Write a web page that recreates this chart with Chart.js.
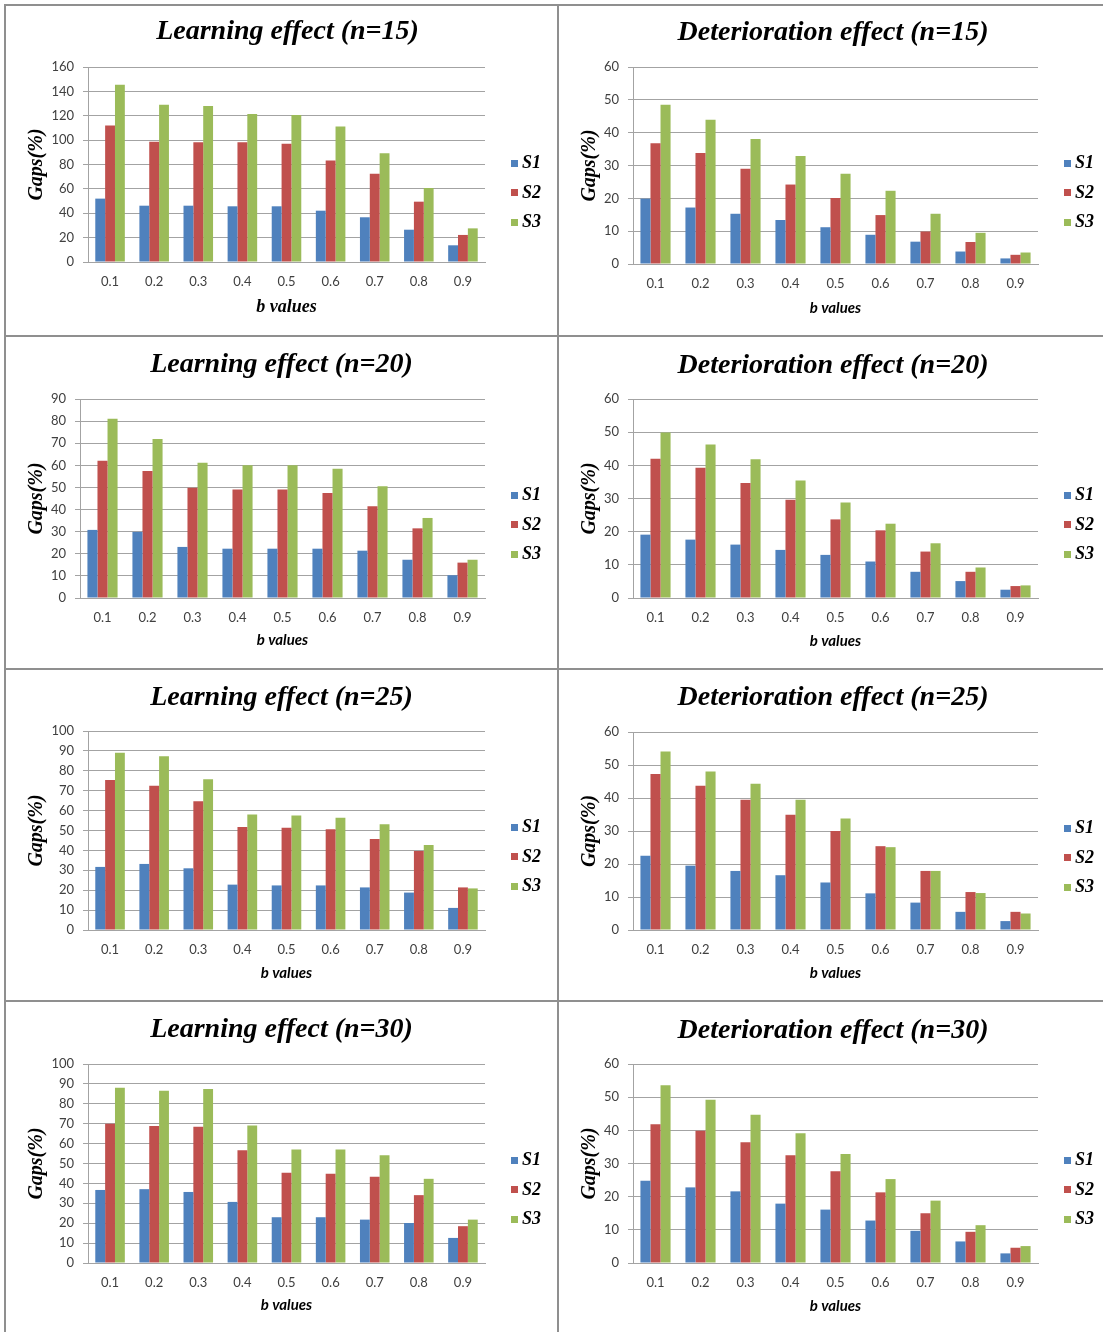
<!DOCTYPE html>
<html>
<head>
<meta charset="utf-8">
<title>Gaps by b value</title>
<script src="https://cdn.jsdelivr.net/npm/chart.js@4.4.1/dist/chart.umd.min.js"></script>
<style>
  html, body { margin: 0; padding: 0; background: #ffffff; }
  #page { position: relative; width: 1103px; height: 1332px; overflow: hidden; background: #ffffff; }
  .rule { position: absolute; background: #8f8f8f; }
  .panel { position: absolute; display: block; }
</style>
</head>
<body>
<div id="page"></div>
<script>
// b values on the x axis
const bValues = ['0.1', '0.2', '0.3', '0.4', '0.5', '0.6', '0.7', '0.8', '0.9'];
const seriesNames = ['S1', 'S2', 'S3'];

// Learning effect, gaps (%)
const learn15S1 = [52.0, 46.2, 46.2, 45.7, 45.7, 42.1, 36.7, 26.5, 13.7];
const learn15S2 = [111.9, 98.7, 98.2, 98.2, 97.1, 83.2, 72.5, 49.5, 22.2];
const learn15S3 = [145.5, 129.1, 128.0, 121.4, 120.6, 111.1, 89.2, 60.7, 27.6];

const learn20S1 = [30.8, 29.9, 23.1, 22.3, 22.3, 22.3, 21.4, 17.3, 10.3];
const learn20S2 = [62.1, 57.4, 49.9, 49.1, 49.1, 47.5, 41.5, 31.5, 16.0];
const learn20S3 = [81.1, 71.9, 61.2, 60.0, 60.0, 58.5, 50.5, 36.2, 17.3];

const learn25S1 = [31.7, 33.2, 31.0, 22.8, 22.4, 22.4, 21.4, 18.8, 11.1];
const learn25S2 = [75.4, 72.5, 64.7, 51.8, 51.4, 50.6, 45.7, 39.7, 21.4];
const learn25S3 = [89.1, 87.3, 75.7, 58.0, 57.6, 56.4, 53.1, 42.7, 20.9];

const learn30S1 = [36.7, 37.1, 35.7, 30.7, 23.0, 23.0, 21.8, 20.1, 12.6];
const learn30S2 = [70.0, 68.8, 68.5, 56.7, 45.3, 44.8, 43.3, 34.1, 18.5];
const learn30S3 = [88.1, 86.6, 87.4, 69.1, 57.0, 57.0, 54.2, 42.3, 21.8];

// Deterioration effect, gaps (%)
const det15S1 = [19.9, 17.2, 15.3, 13.4, 11.2, 8.9, 6.8, 3.8, 1.7];
const det15S2 = [36.8, 33.8, 29.0, 24.2, 20.1, 14.9, 9.9, 6.7, 2.8];
const det15S3 = [48.5, 43.9, 38.1, 32.9, 27.5, 22.3, 15.3, 9.5, 3.5];

const det20S1 = [19.1, 17.6, 16.1, 14.5, 13.0, 11.0, 7.9, 5.1, 2.5];
const det20S2 = [42.0, 39.3, 34.7, 29.6, 23.7, 20.4, 14.0, 7.9, 3.6];
const det20S3 = [49.9, 46.3, 41.8, 35.4, 28.8, 22.4, 16.5, 9.2, 3.8];

const det25S1 = [22.5, 19.5, 17.9, 16.6, 14.4, 11.1, 8.3, 5.5, 2.7];
const det25S2 = [47.3, 43.7, 39.5, 34.9, 30.0, 25.4, 17.9, 11.5, 5.5];
const det25S3 = [54.1, 48.0, 44.3, 39.5, 33.8, 25.1, 17.9, 11.2, 5.0];

const det30S1 = [24.8, 22.8, 21.6, 17.9, 16.1, 12.8, 9.7, 6.5, 2.9];
const det30S2 = [41.8, 39.9, 36.4, 32.5, 27.7, 21.3, 15.0, 9.4, 4.6];
const det30S3 = [53.6, 49.2, 44.7, 39.1, 32.9, 25.3, 18.8, 11.4, 5.1];

// y axis ranges [max, step]
const learn15Axis = [160, 20];
const learn20Axis = [90, 10];
const learn25Axis = [100, 10];
const learn30Axis = [100, 10];
const detAxis = [60, 10];

// ---- styling & layout ----
const SERIES_COLORS = ['#4F81BD', '#C0504D', '#9BBB59'];
const GRID = '#a3a3a3';
const TICK_COLOR = '#404040';
const SERIF = '"Liberation Serif", "Times New Roman", serif';
const SANS = 'Lato, "Open Sans", sans-serif';

const COLS = [{ x: 6, w: 551 }, { x: 559, w: 544 }];
const ROWS = [{ y: 6, h: 329 }, { y: 337, h: 331 }, { y: 670, h: 330 }, { y: 1002, h: 330 }];

const panels = [
  { title: 'Learning effect (n=15)', data: [learn15S1, learn15S2, learn15S3], axis: learn15Axis,
    col: 0, row: 0, plot: { l: 88, r: 485, t: 67, b: 262 }, titleY: 32, titleShift: 6, xTitleY: 307, serifXTitle: true },
  { title: 'Deterioration effect (n=15)', data: [det15S1, det15S2, det15S3], axis: detAxis,
    col: 1, row: 0, plot: { l: 633, r: 1038, t: 67, b: 264 }, titleY: 33, titleShift: 2, xTitleY: 308 },
  { title: 'Learning effect (n=20)', data: [learn20S1, learn20S2, learn20S3], axis: learn20Axis,
    col: 0, row: 1, plot: { l: 80, r: 485, t: 399, b: 598 }, titleY: 365, titleShift: 0, xTitleY: 640 },
  { title: 'Deterioration effect (n=20)', data: [det20S1, det20S2, det20S3], axis: detAxis,
    col: 1, row: 1, plot: { l: 633, r: 1038, t: 399, b: 598 }, titleY: 366, titleShift: 2, xTitleY: 641 },
  { title: 'Learning effect (n=25)', data: [learn25S1, learn25S2, learn25S3], axis: learn25Axis,
    col: 0, row: 2, plot: { l: 88, r: 485, t: 731, b: 930 }, titleY: 698, titleShift: 0, xTitleY: 973 },
  { title: 'Deterioration effect (n=25)', data: [det25S1, det25S2, det25S3], axis: detAxis,
    col: 1, row: 2, plot: { l: 633, r: 1038, t: 732, b: 930 }, titleY: 698, titleShift: 2, xTitleY: 973 },
  { title: 'Learning effect (n=30)', data: [learn30S1, learn30S2, learn30S3], axis: learn30Axis,
    col: 0, row: 3, plot: { l: 88, r: 485, t: 1064, b: 1263 }, titleY: 1030, titleShift: 0, xTitleY: 1305 },
  { title: 'Deterioration effect (n=30)', data: [det30S1, det30S2, det30S3], axis: detAxis,
    col: 1, row: 3, plot: { l: 633, r: 1038, t: 1064, b: 1263 }, titleY: 1031, titleShift: 2, xTitleY: 1306 }
];

// Series key drawn to the right of the plot area
const sideLegend = {
  id: 'sideLegend',
  afterDraw(chart, args, opts) {
    const { ctx, chartArea } = chart;
    ctx.save();
    ctx.font = 'italic bold 18px ' + SERIF;
    ctx.textBaseline = 'middle';
    ctx.textAlign = 'left';
    chart.data.datasets.forEach((ds, i) => {
      const y = chartArea.top + opts.offsetY + (i - 1) * opts.spacing;
      ctx.fillStyle = ds.backgroundColor;
      ctx.fillRect(chartArea.right + opts.boxX, Math.round(y - 4), 7, 7);
      ctx.fillStyle = '#000000';
      ctx.fillText(ds.label, chartArea.right + opts.textX, y);
    });
    ctx.restore();
  }
};

function addRule(page, x, y, w, h) {
  const d = document.createElement('div');
  d.className = 'rule';
  d.style.left = x + 'px'; d.style.top = y + 'px';
  d.style.width = w + 'px'; d.style.height = h + 'px';
  page.appendChild(d);
}

function build() {
  const page = document.getElementById('page');

  // frame around the grid of panels
  addRule(page, 4, 4, 1099, 2);
  addRule(page, 4, 4, 2, 1328);
  addRule(page, 557, 4, 2, 1328);
  addRule(page, 4, 335, 1099, 2);
  addRule(page, 4, 668, 1099, 2);
  addRule(page, 4, 1000, 1099, 2);

  panels.forEach(p => {
    const col = COLS[p.col], row = ROWS[p.row];
    const canvas = document.createElement('canvas');
    canvas.className = 'panel';
    canvas.width = col.w; canvas.height = row.h;
    canvas.style.left = col.x + 'px'; canvas.style.top = row.y + 'px';
    canvas.style.width = col.w + 'px'; canvas.style.height = row.h + 'px';
    page.appendChild(canvas);

    // left padding moves the centred title right by half its amount
    const padLeft = 2 * p.titleShift;

    const titleSize = 28, titleLH = titleSize * 1.2;
    const titleTop = p.titleY - row.y - titleLH / 2;
    const titleBottom = (p.plot.t - row.y) - titleTop - titleLH;

    const yAxisWidth = p.plot.l - col.x - padLeft;
    const xAxisHeight = (row.y + row.h) - p.plot.b;
    const rightGap = (col.x + col.w) - p.plot.r;

    const xTitleFont = p.serifXTitle
      ? { family: SERIF, size: 18, style: 'italic', weight: 'bold', lineHeight: 1.2 }
      : { family: SANS, size: 15, style: 'italic', weight: 'bold', lineHeight: 1.2 };
    const xTitleLH = xTitleFont.size * 1.2;
    const xTitlePadBottom = (row.y + row.h) - p.xTitleY - xTitleLH / 2;

    const yTitleSize = 20, yTitleLH = yTitleSize * 1.2;
    const yTitlePadTop = 31 - padLeft - yTitleLH / 2;

    new Chart(canvas, {
      type: 'bar',
      data: {
        labels: bValues,
        datasets: p.data.map((vals, i) => ({
          label: seriesNames[i],
          data: vals,
          backgroundColor: SERIES_COLORS[i],
          borderWidth: 0,
          barPercentage: 1.0,
          categoryPercentage: 0.67
        }))
      },
      options: {
        responsive: false,
        animation: false,
        devicePixelRatio: 1,
        layout: { padding: { left: padLeft, right: 0, top: 0, bottom: 0 } },
        plugins: {
          legend: { display: false },
          tooltip: { enabled: false },
          title: {
            display: true,
            text: p.title,
            color: '#000000',
            font: { family: SERIF, size: titleSize, style: 'italic', weight: 'bold', lineHeight: 1.2 },
            padding: { top: titleTop, bottom: titleBottom }
          },
          sideLegend: { offsetY: 126, spacing: 29.5, boxX: 26, textX: 37 }
        },
        scales: {
          x: {
            position: 'bottom',
            grid: { display: false, drawTicks: false },
            border: { display: true, color: GRID, width: 1 },
            ticks: { color: TICK_COLOR, font: { family: SANS, size: 13, lineHeight: 1.2 }, padding: 12, maxRotation: 0 },
            title: {
              display: true, text: 'b values', color: '#000000',
              font: xTitleFont, padding: { top: 0, bottom: xTitlePadBottom }
            },
            afterFit(s) { s.height = xAxisHeight; }
          },
          y: {
            position: 'left',
            min: 0,
            max: p.axis[0],
            ticks: { stepSize: p.axis[1], color: TICK_COLOR, font: { family: SANS, size: 13, lineHeight: 1.2 }, padding: 9 },
            grid: { color: GRID, lineWidth: 1, drawTicks: true, tickLength: 5, tickColor: GRID },
            border: { display: true, color: GRID, width: 1 },
            title: {
              display: true, text: 'Gaps(%)', color: '#000000',
              font: { family: SERIF, size: yTitleSize, style: 'italic', weight: 'bold', lineHeight: 1.2 },
              padding: { top: yTitlePadTop, bottom: 0 }
            },
            afterFit(s) { s.width = yAxisWidth; }
          },
          keyGap: {
            type: 'linear',
            axis: 'y',
            position: 'right',
            display: true,
            grid: { display: false, drawTicks: false },
            border: { display: false },
            ticks: { display: false },
            afterFit(s) { s.width = rightGap; }
          }
        }
      },
      plugins: [sideLegend]
    });
  });
}

const fontLoads = [
  'italic bold 28px "Liberation Serif"',
  '13px Lato',
  'italic bold 15px Lato'
].map(f => document.fonts.load(f).catch(() => null));
Promise.all(fontLoads).then(build, build);
</script>
</body>
</html>
